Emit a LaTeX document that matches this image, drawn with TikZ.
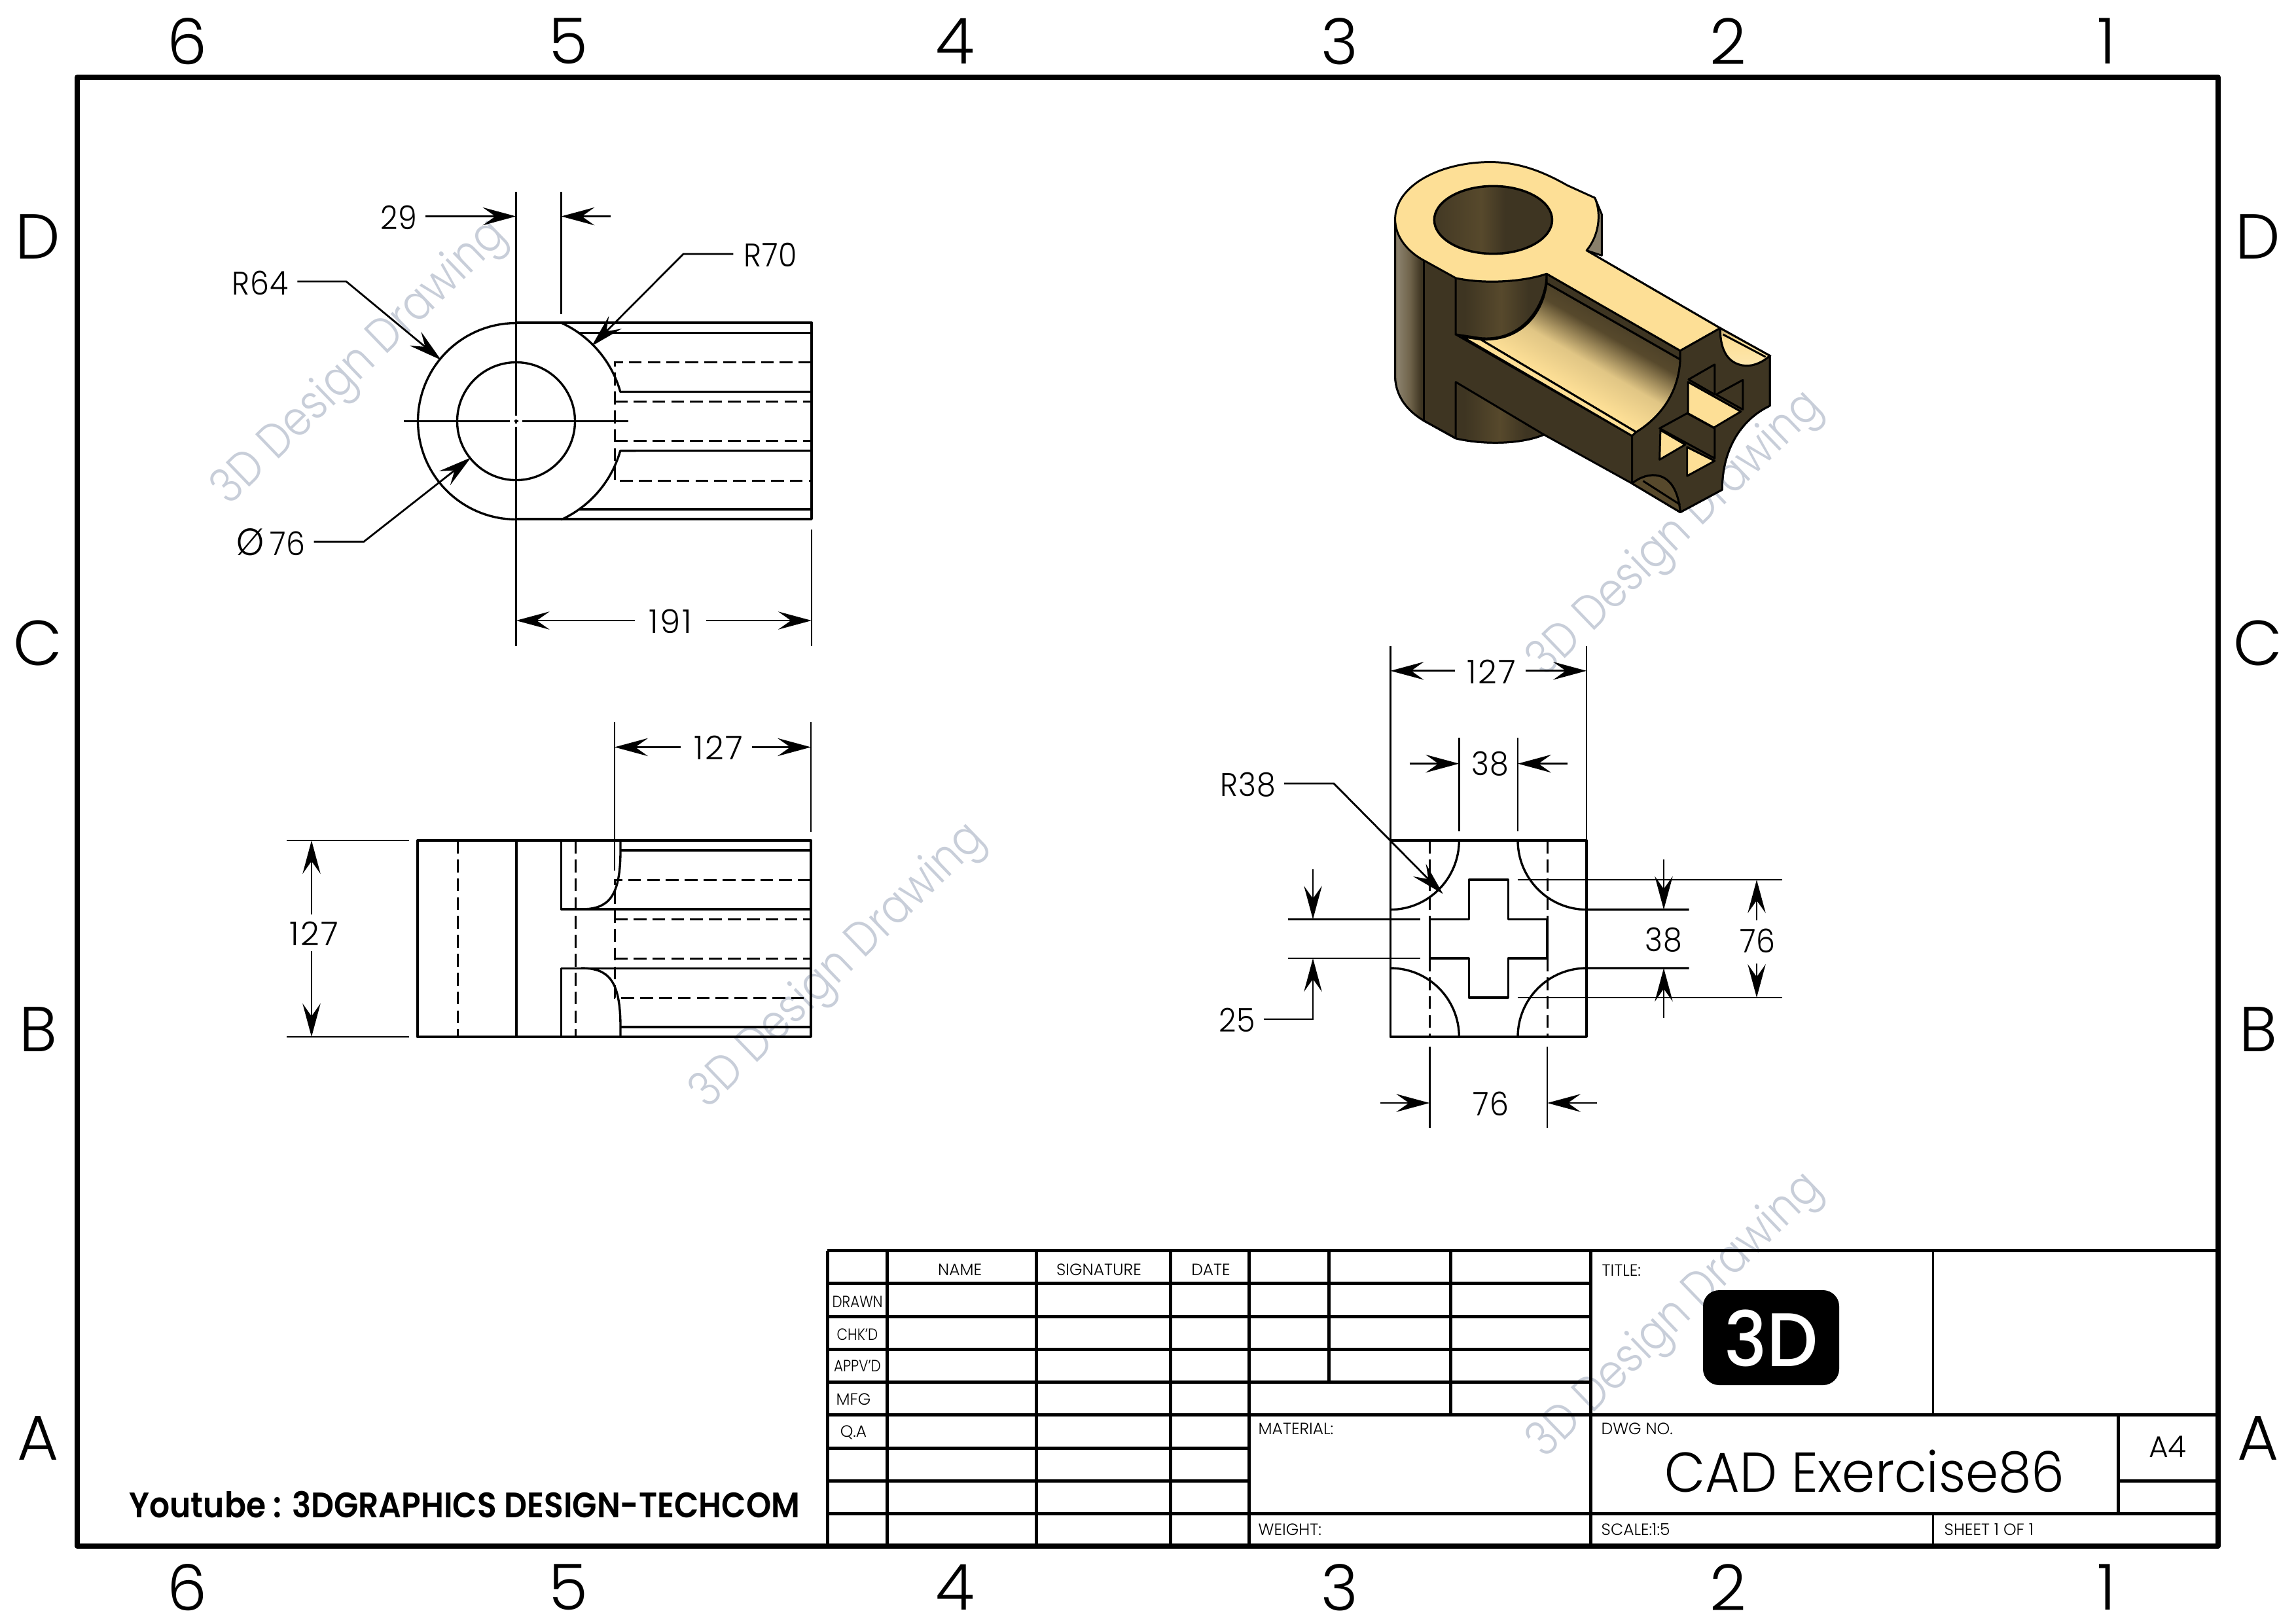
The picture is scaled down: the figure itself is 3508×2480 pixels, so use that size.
\documentclass[tikz,border=0pt]{standalone}
\usepackage{fontspec}
\usetikzlibrary{arrows.meta}
\setmainfont{Poppins}[UprightFont=* Light,BoldFont=* SemiBold,FakeStretch=0.86]
\newfontfamily\widefont{Poppins}[UprightFont=* Light,FakeStretch=1.0]
\newfontfamily\dimfont{Poppins}[UprightFont=* Light,FakeStretch=1.0,LetterSpace=5]
\newfontfamily\dimnarrow{Poppins}[UprightFont=* Light,FakeStretch=0.92,LetterSpace=2]
\newfontfamily\cadfont{Poppins}[UprightFont=* Light,FakeStretch=0.94]
\newfontfamily\ytfont{Poppins}[UprightFont=* SemiBold,FakeStretch=0.9]
\newfontfamily\logofont{Poppins}[UprightFont=* Medium,FakeStretch=0.95]
\definecolor{isolight}{HTML}{FDDF96}
\definecolor{isodark}{HTML}{3E3522}
\definecolor{isomid}{HTML}{57492C}
\definecolor{wmark}{HTML}{C8CED9}
\pgfdeclarehorizontalshading{holeshade}{100bp}{color(0bp)=(isolight);color(4bp)=(isolight!80!isodark);color(12bp)=(isomid);color(20bp)=(isodark);color(45bp)=(isomid);color(55bp)=(isodark);color(88bp)=(isodark);color(95bp)=(isomid);color(100bp)=(isolight)}
\pgfdeclarehorizontalshading{leftcyl}{100bp}{color(0bp)=(isomid);color(30bp)=(isomid!70!white);color(50bp)=(isomid!85!white);color(70bp)=(isodark);color(100bp)=(isodark)}
\pgfdeclarehorizontalshading{bossshade}{100bp}{color(0bp)=(isodark);color(30bp)=(isodark);color(50bp)=(isomid);color(65bp)=(isodark);color(100bp)=(isodark)}
\pgfdeclareverticalshading{chanshade}{100bp}{color(0bp)=(isolight);color(40bp)=(isolight);color(50bp)=(isolight!85!isodark);color(60bp)=(isomid);color(72bp)=(isodark);color(100bp)=(isodark)}
\pgfdeclareverticalshading{notchshade}{100bp}{color(0bp)=(isolight!60!white);color(60bp)=(isolight);color(100bp)=(isomid)}
\tikzset{
  vis/.style={line width=0.95pt,line join=round},
  hid/.style={line width=0.85pt,dash pattern=on 5.6pt off 2.6pt},
  thin line/.style={line width=0.8pt},
  dimline/.style={line width=0.8pt,-{Stealth[length=14.5pt,width=7.8pt,inset=5.5pt]}},
  leader/.style={line width=0.8pt,-{Stealth[length=14.5pt,width=7.8pt,inset=5.5pt]}},
  dimtext/.style={font=\dimfont\fontsize{14.2}{16}\selectfont,inner sep=0pt},
  dimtextb/.style={font=\dimnarrow\fontsize{14.2}{16}\selectfont,inner sep=0pt},
  bordertext/.style={font=\widefont\fontsize{27.6}{30}\selectfont,inner sep=0pt},
  smalltext/.style={font=\widefont\fontsize{7.1}{8}\selectfont,inner sep=0pt},
  smallleft/.style={smalltext,anchor=west},
  sidetext/.style={font=\fontsize{7.1}{8}\selectfont,inner sep=0pt},
  tbthick/.style={line width=1.42pt},
  tbthin/.style={line width=0.85pt},
  watermark/.style={font=\fontsize{21}{24}\selectfont,text=wmark,rotate=44,inner sep=0pt},
  isoedge/.style={draw=black,line width=0.85pt,line join=round}
}
\newcommand{\dimarrow}[3]{\coordinate (#1a) at (#2);\coordinate (#1b) at (#3);\draw[dimline] (#1a) -- (#1b);}
\newcommand{\extline}[3]{\coordinate (#1a) at (#2);\coordinate (#1b) at (#3);\draw[thin line] (#1a) -- (#1b);}
\begin{document}
\begin{tikzpicture}[x=0.01cm,y=-0.01cm]
\useasboundingbox (0,0) rectangle (3508,2480);
\fill[white] (0,0) rectangle (3508,2480);
% watermarks
\node[watermark] (wm1) at (551,555) {3D Design Drawing};
\node[watermark] (wm2) at (2561,817) {3D Design Drawing};
\node[watermark] (wm3) at (1282,1477) {3D Design Drawing};
\node[watermark] (wm4) at (2561,2011) {3D Design Drawing};
% frame
\draw[line width=2.28pt,line join=round] (118,118) rectangle (3389,2362);
% border labels
\foreach \n/\t/\xx in {a/6/286,b/5/868,c/4/1459,d/3/2047,e/2/2640,f/1/3219}{
  \node[bordertext] (top\n) at (\xx,63) {\t};
  \node[bordertext] (bot\n) at (\xx,2425) {\t};}
\foreach \n/\t/\yy in {a/D/362,b/C/982,c/B/1573,d/A/2197}{
  \node[bordertext] (lft\n) at (58,\yy) {\t};
  \node[bordertext] (rgt\n) at (3450,\yy) {\t};}
% ---------- view 1
\draw[vis] plot[domain=90:270,samples=60] ({788.5+150*cos(\x)},{643.5+150*sin(\x)});
\draw[vis] (788.5,643.5) circle[radius=90];
\draw[vis] (788.5,493) -- (1240,493) -- (1240,793) -- (788.5,793);
\draw[vis] (884,508.4) -- (1240,508.4);
\draw[vis] (884,778) -- (1240,778);
\draw[vis] plot[domain=-65.4:-15.8,samples=30] ({788.5+165.5*cos(\x)},{643.5+165.5*sin(\x)}) -- (1240,598.5);
\draw[vis] plot[domain=65.4:15.8,samples=30] ({788.5+165.5*cos(\x)},{643.5+165.5*sin(\x)}) -- (1240,688.5);
\draw[hid] (1240,553) -- (939,553) -- (939,734) -- (1240,734);
\draw[hid] (939,613) -- (1240,613);
\draw[hid] (939,673.6) -- (1240,673.6);
% centre lines
\extline{cv1}{788.5,293}{788.5,635}
\extline{cv2}{788.5,652}{788.5,987}
\extline{ch1}{617,643.5}{779,643.5}
\extline{ch2}{798,643.5}{959.5,643.5}
\draw[thin line] (785.5,643.5) -- (791.5,643.5);
\draw[thin line] (788.5,640.5) -- (788.5,646.5);
\extline{e29}{857.4,293}{857.4,479.6}
\extline{e191}{1240,808.5}{1240,987}
\node[dimtextb] (t29) at (609,332) {29};
\dimarrow{a29l}{650,330.5}{788.5,330.5}
\dimarrow{a29r}{933,330.5}{857.4,330.5}
\node[dimtextb] (tr64) at (398,432) {R64};
\coordinate (r64s) at (454.4,430);\coordinate (r64k) at (529,430);\coordinate (r64t) at (674,550);
\draw[leader] (r64s) -- (r64k) -- (r64t);
\node[dimtextb] (tr70) at (1177,389.5) {R70};
\coordinate (r70s) at (1120.4,388);\coordinate (r70k) at (1044,388);\coordinate (r70t) at (904,528.7);
\draw[leader] (r70s) -- (r70k) -- (r70t);
\node[dimtextb] (td76) at (414,828) {{\fontsize{16.5}{16}\selectfont Ø}\,76};
\coordinate (d76s) at (479.5,827.4);\coordinate (d76k) at (556,827.4);\coordinate (d76t) at (719.5,699);
\draw[leader] (d76s) -- (d76k) -- (d76t);
\node[dimtext] (t191) at (1024,949) {191};
\dimarrow{a191l}{969.7,948}{788.5,948}
\dimarrow{a191r}{1079,948}{1240,948}
% ---------- view 2
\draw[vis] (638,1284) rectangle (1239,1584);
\draw[hid] (699,1284) -- (699,1584);
\draw[vis] (789,1284) -- (789,1584);
\draw[vis] (948,1284) -- (948,1299) .. controls (948,1370) and (930,1389) .. (888,1389);
\draw[vis] (948,1584) -- (948,1569) .. controls (948,1498) and (930,1479) .. (888,1479);
\draw[vis] (857.5,1284) -- (857.5,1389) -- (1239,1389);
\draw[vis] (857.5,1584) -- (857.5,1479.3) -- (1239,1479.3);
\draw[vis] (948,1299) -- (1239,1299);
\draw[vis] (948,1569) -- (1239,1569);
\draw[hid] (879,1284) -- (879,1584);
\draw[hid] (1239,1344) -- (939,1344) -- (939,1524) -- (1239,1524);
\draw[hid] (939,1404) -- (1239,1404);
\draw[hid] (939,1464) -- (1239,1464);
\extline{e127a}{939,1103}{939,1330}
\extline{e127b}{1239,1103}{1239,1271}
\node[dimtext] (t127a) at (1097.5,1142.5) {127};
\dimarrow{a127l}{1040,1141.4}{939,1141.4}
\dimarrow{a127r}{1149,1141.4}{1239,1141.4}
\extline{e127c}{438,1284}{625,1284}
\extline{e127d}{438,1584}{625,1584}
\node[dimtext] (t127b) at (480,1426) {127};
\dimarrow{a127u}{476,1397}{476,1284}
\dimarrow{a127w}{476,1453}{476,1584}
% ---------- view 3
\draw[vis] (2124.4,1284) rectangle (2424,1584);
\draw[hid] (2184.3,1284) -- (2184.3,1404);
\draw[hid] (2184.3,1464) -- (2184.3,1584);
\draw[hid] (2364,1284) -- (2364,1404);
\draw[hid] (2364,1464) -- (2364,1584);
\draw[vis] (2244.3,1344) -- (2304.3,1344) -- (2304.3,1404.4) -- (2364,1404.4) -- (2364,1464) -- (2304.3,1464) -- (2304.3,1524) -- (2244.3,1524) -- (2244.3,1464) -- (2184.3,1464) -- (2184.3,1404.4) -- (2244.3,1404.4) -- cycle;
\draw[vis] (2229.3,1284) .. controls (2229.3,1342) and (2182.4,1389.6) .. (2124.4,1389.6);
\draw[vis] (2319,1284) .. controls (2319,1342) and (2366,1389.6) .. (2424,1389.6) -- (2580.6,1389.6);
\draw[vis] (2229.3,1584) .. controls (2229.3,1526) and (2182.4,1479) .. (2124.4,1479);
\draw[vis] (2319,1584) .. controls (2319,1526) and (2366,1479) .. (2424,1479) -- (2580.6,1479);
\extline{f127a}{2124.4,986.5}{2124.4,1284}
\extline{f127b}{2424,986.5}{2424,1284}
\node[dimtext] (t127c) at (2278.4,1026) {127};
\dimarrow{b127l}{2222.7,1024.8}{2124.4,1024.8}
\dimarrow{b127r}{2330.6,1024.8}{2424,1024.8}
\extline{f38a}{2229.3,1127}{2229.3,1270}
\extline{f38b}{2319,1127}{2319,1270}
\node[dimtextb] (t38a) at (2276.6,1166.6) {38};
\dimarrow{b38l}{2153.7,1166.6}{2229.3,1166.6}
\dimarrow{b38r}{2394.8,1166.6}{2319,1166.6}
\node[dimtextb] (tr38) at (1906.7,1198.8) {R38};
\coordinate (r38s) at (1962,1197);\coordinate (r38k) at (2038,1197);\coordinate (r38t) at (2204.7,1365.6);
\draw[leader] (r38s) -- (r38k) -- (r38t);
\extline{f25a}{1968,1404.4}{2170,1404.4}
\extline{f25b}{1968,1464}{2170,1464}
\dimarrow{b25d}{2006,1328}{2006,1404.4}
\coordinate (l25s) at (1930.7,1557);\coordinate (l25k) at (2006,1557);\coordinate (l25t) at (2006,1464);
\draw[leader] (l25s) -- (l25k) -- (l25t);
\node[dimtextb] (t25) at (1890,1558) {25};
\dimarrow{b38d}{2542,1313}{2542,1389.6}
\dimarrow{b38u}{2542,1555}{2542,1479}
\node[dimtextb] (t38b) at (2542,1435.5) {38};
\extline{f76a}{2318.6,1344}{2723,1344}
\extline{f76b}{2318.6,1524}{2723,1524}
\dimarrow{b76u}{2684,1406}{2684,1344}
\dimarrow{b76d}{2684,1472}{2684,1524}
\node[dimtextb] (t76a) at (2685.5,1437) {76};
\extline{f76c}{2184.3,1599}{2184.3,1723}
\extline{f76d}{2364,1599}{2364,1723}
\dimarrow{b76l}{2108.8,1685}{2184.3,1685}
\dimarrow{b76r}{2439.7,1685}{2364,1685}
\node[dimtextb] (t76b) at (2277.8,1686) {76};
% ---------- isometric view, in the zoom grid
\begin{scope}[shift={(2100,220)},xscale=0.4209,yscale=0.3827]
\path[isoedge,fill=isomid!70!white] (800,215) -- (825,280) -- (825,445) -- (770,425) -- cycle;
\path[isoedge,fill=isodark] (75,300) -- (75,930) .. controls (78,1010) and (120,1065) .. (180,1105) -- (295,1175) .. controls (390,1200) and (530,1200) .. (615,1160) -- (935,1355) -- (1110,1470) -- (1262,1380) .. controls (1262,1220) and (1330,1100) .. (1435,1045) -- (1435,845) -- (1255,735) -- (770,425) -- (800,215) -- (431,80) -- cycle;
\shade[shading=leftcyl] (75,300) -- (75,930) .. controls (78,1010) and (120,1065) .. (180,1105) -- (180,300) -- cycle;
\draw[isoedge] (75,300) -- (75,930) .. controls (78,1010) and (120,1065) .. (180,1105) -- (295,1175);
\shade[shading=bossshade] (295,950) -- (615,1160) .. controls (530,1200) and (390,1200) .. (295,1175) -- cycle;
\draw[isoedge] (295,950) -- (615,1160) .. controls (530,1200) and (390,1200) .. (295,1175) -- cycle;
\shade[shading=bossshade,draw=black,line width=0.85pt] (295,535) .. controls (400,560) and (540,550) .. (625,518) .. controls (625,640) and (540,790) .. (385,775) -- (295,760) -- cycle;
\draw[isoedge] (295,760) -- (935,1165) -- (935,1355);
\draw[isoedge] (180,465) -- (180,1105);
\shade[shading=chanshade,shading angle=-30,draw=black,line width=0.85pt] (625,555) -- (1110,860) .. controls (1105,990) and (1040,1090) .. (950,1150) -- (385,780) .. controls (520,790) and (610,690) .. (625,555) -- cycle;
\path[isoedge,fill=isolight] (320,770) -- (385,780) -- (950,1150) -- (935,1165) -- cycle;
\path[isoedge,fill=isodark] (625,518) -- (1110,825) -- (1110,860) -- (625,555) -- cycle;
\path[isoedge,fill=isolight] (75,300) .. controls (75,165) and (240,72) .. (420,72) .. controls (530,72) and (620,115) .. (700,165) -- (800,215) .. controls (825,280) and (815,365) .. (770,425) -- (1255,735) -- (1110,825) -- (625,518) .. controls (540,550) and (400,560) .. (295,535) -- (180,465) .. controls (120,430) and (75,370) .. (75,300) -- cycle;
\shade[shading=holeshade,draw=black,line width=1pt] (431,303) ellipse[x radius=214,y radius=135];
% end face
\path[isoedge,fill=isodark] (1110,825) -- (1255,735) .. controls (1255,800) and (1270,880) .. (1350,885) .. controls (1380,885) and (1410,870) .. (1435,845) -- (1435,1045) .. controls (1330,1100) and (1262,1220) .. (1262,1380) -- (1110,1470) .. controls (1095,1290) and (990,1305) .. (935,1355) -- (935,1165) -- (950,1150) .. controls (1040,1090) and (1105,990) .. (1110,860) -- cycle;
\shade[shading=notchshade,draw=black,line width=0.85pt] (1255,735) -- (1435,845) .. controls (1410,870) and (1380,885) .. (1350,885) .. controls (1270,880) and (1255,800) .. (1255,735) -- cycle;
\draw[isoedge] (1265,760) -- (1420,850);
\path[isoedge,fill=isomid] (935,1355) .. controls (990,1305) and (1095,1290) .. (1110,1470) -- cycle;
\draw[isoedge] (975,1345) -- (1110,1440);
% cross
\path[isoedge,fill=isodark] (1235,880) -- (1140,940) -- (1235,1000) -- cycle;
\path[isoedge,fill=isodark] (1337,942) -- (1240,1000) -- (1337,1060) -- cycle;
\path[isoedge,fill=isolight] (1138,950) -- (1330,1068) -- (1232,1132) -- (1138,1075) -- cycle;
\path[isoedge,fill=isodark] (1135,1075) -- (1235,1135) -- (1235,1255) -- (1035,1135) -- cycle;
\path[isoedge,fill=isolight] (1038,1142) -- (1128,1200) -- (1035,1260) -- cycle;
\path[isoedge,fill=isolight] (1135,1210) -- (1235,1265) -- (1135,1325) -- cycle;
\end{scope}
% ---------- title block
\draw[tbthick] (1264,1910.5) -- (3389,1910.5);
\foreach \yy in {1960.5,2011,2061,2111}{\draw[tbthick] (1264,\yy) -- (2430,\yy);}
\draw[tbthick] (1264,2161.5) -- (3389,2161.5);
\draw[tbthick] (1264,2212) -- (1908,2212);
\draw[tbthick] (1264,2262) -- (1908,2262);
\draw[tbthick] (3236,2262) -- (3389,2262);
\draw[tbthick] (1264,2312) -- (3389,2312);
\draw[tbthick] (1264,1910.5) -- (1264,2362);
\foreach \xx in {1355.5,1583,1788,1908}{\draw[tbthick] (\xx,1910.5) -- (\xx,2362);}
\draw[tbthick] (2030.5,1910.5) -- (2030.5,2111);
\draw[tbthick] (2216,1910.5) -- (2216,2161.5);
\draw[tbthick] (2430,1910.5) -- (2430,2362);
\draw[tbthin] (2953,1910.5) -- (2953,2161.5);
\draw[tbthin] (2953,2312) -- (2953,2362);
\draw[tbthick] (3236,2161.5) -- (3236,2312);
\node[smalltext] (tname) at (1466.6,1940) {NAME};
\node[smalltext] (tsig) at (1679,1940) {SIGNATURE};
\node[smalltext] (tdate) at (1850,1940) {DATE};
\node[sidetext] (tdrawn) at (1310,1989) {DRAWN};
\node[sidetext] (tchk) at (1310,2039) {CHK'D};
\node[sidetext] (tappv) at (1310,2087) {APPV'D};
\node[smalltext] (tmfg) at (1304,2138) {MFG};
\node[smalltext] (tqa) at (1304,2188) {Q.A};
\node[smallleft] (tmat) at (1922,2183) {MATERIAL:};
\node[smallleft] (tweight) at (1922,2337) {WEIGHT:};
\node[smallleft] (ttitle) at (2447,1941) {TITLE:};
\node[smallleft] (tdwg) at (2446,2183) {DWG NO.};
\node[smallleft] (tscale) at (2446,2337) {SCALE:1:5};
\node[smallleft] (tsheet) at (2970,2337) {SHEET 1 OF 1};
\node[font=\widefont\fontsize{13}{15}\selectfont,inner sep=0pt] (ta4) at (3312,2210) {A4};
\node[font=\cadfont\fontsize{24.4}{28}\selectfont,inner sep=0pt] (tcad) at (2849,2248) {CAD Exercise86};
\fill[black,rounded corners=7pt] (2602,1971) rectangle (2810,2116);
\node[font=\logofont\fontsize{33}{36}\selectfont,text=white,inner sep=0pt] (tlogo) at (2706,2044) {3D};
\node[font=\ytfont\fontsize{15.4}{18}\selectfont,inner sep=0pt] (tyt) at (710,2298) {Youtube : 3DGRAPHICS DESIGN-TECHCOM};
\end{tikzpicture}
\end{document}
